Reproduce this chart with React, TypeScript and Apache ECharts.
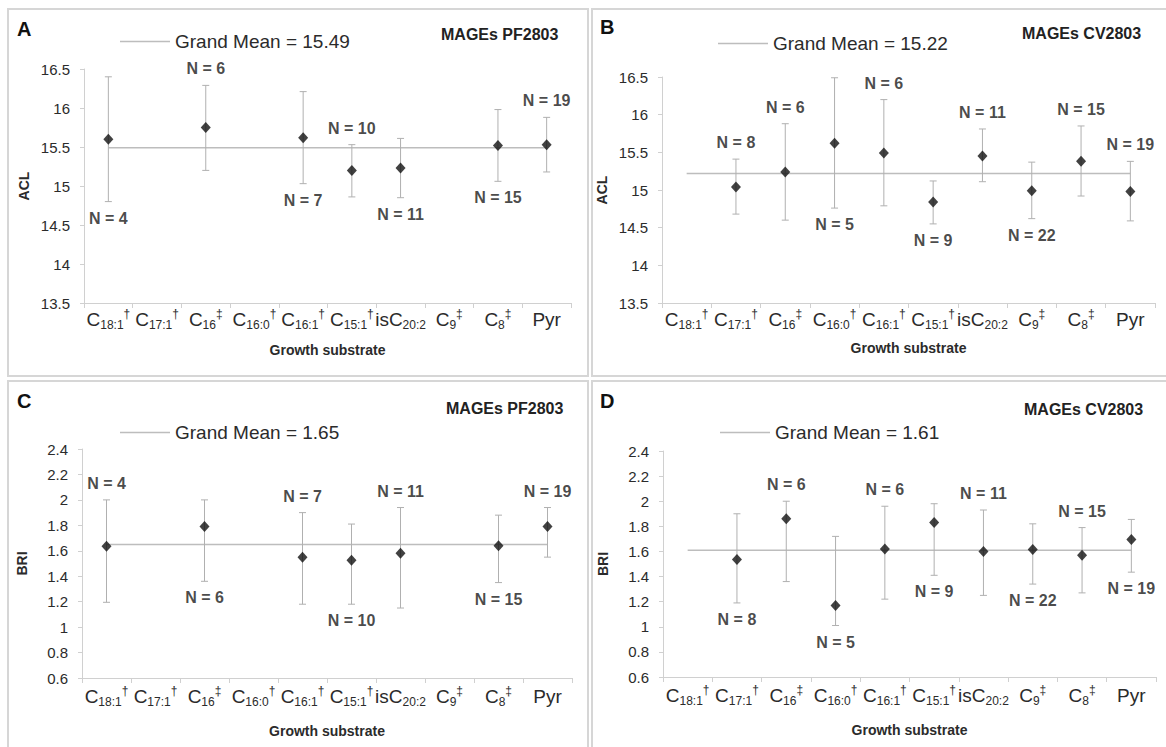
import React, { useEffect, useRef } from "react";
import * as echarts from "echarts";

// ---------- data ----------
const categories = ["C18:1†", "C17:1†", "C16‡", "C16:0†", "C16:1†", "C15:1†", "isC20:2", "C9‡", "C8‡", "Pyr"];
const catBase = ["C", "C", "C", "C", "C", "C", "isC", "C", "C", "Pyr"];
const catSub = ["18:1", "17:1", "16", "16:0", "16:1", "15:1", "20:2", "9", "8", ""];
const catSup = ["†", "†", "‡", "†", "†", "†", "", "‡", "‡", ""];

// Panel A: ACL, MAGEs PF2803
const aclPfMean = [15.6, null, 15.75, null, 15.62, 15.2, 15.23, null, 15.52, 15.53];
const aclPfLow = [14.8, null, 15.2, null, 15.03, 14.86, 14.85, null, 15.06, 15.18];
const aclPfHigh = [16.4, null, 16.29, null, 16.21, 15.53, 15.61, null, 15.98, 15.88];
const aclPfN = [4, null, 6, null, 7, 10, 11, null, 15, 19];
const aclPfNSide = ["below", null, "above", null, "below", "above", "below", null, "below", "above"];
const aclPfGrandMean = 15.49;

// Panel B: ACL, MAGEs CV2803
const aclCvMean = [null, 15.04, 15.24, 15.62, 15.49, 14.84, 15.45, 14.99, 15.38, 14.98];
const aclCvLow = [null, 14.68, 14.6, 14.76, 14.79, 14.55, 15.11, 14.62, 14.92, 14.59];
const aclCvHigh = [null, 15.41, 15.88, 16.49, 16.2, 15.12, 15.81, 15.37, 15.85, 15.38];
const aclCvN = [null, 8, 6, 5, 6, 9, 11, 22, 15, 19];
const aclCvNSide = [null, "above", "above", "below", "above", "below", "above", "below", "above", "above"];
const aclCvGrandMean = 15.22;

// Panel C: BRI, MAGEs PF2803
const briPfMean = [1.635, null, 1.79, null, 1.55, 1.525, 1.58, null, 1.64, 1.79];
const briPfLow = [1.195, null, 1.36, null, 1.18, 1.18, 1.15, null, 1.35, 1.55];
const briPfHigh = [2.0, null, 2.0, null, 1.9, 1.81, 1.94, null, 1.88, 1.94];
const briPfN = [4, null, 6, null, 7, 10, 11, null, 15, 19];
const briPfNSide = ["above", null, "below", null, "above", "below", "above", null, "below", "above"];
const briPfGrandMean = 1.65;

// Panel D: BRI, MAGEs CV2803
const briCvMean = [null, 1.536, 1.86, 1.17, 1.62, 1.83, 1.6, 1.616, 1.57, 1.695];
const briCvLow = [null, 1.19, 1.36, 1.01, 1.22, 1.41, 1.25, 1.34, 1.27, 1.435];
const briCvHigh = [null, 1.9, 2.0, 1.72, 1.96, 1.98, 1.93, 1.82, 1.79, 1.855];
const briCvN = [null, 8, 6, 5, 6, 9, 11, 22, 15, 19];
const briCvNSide = [null, "below", "above", "below", "above", "below", "above", "below", "above", "below"];
const briCvGrandMean = 1.61;

const panelLetters = ["A", "B", "C", "D"];
const panelTitles = ["MAGEs PF2803", "MAGEs CV2803", "MAGEs PF2803", "MAGEs CV2803"];
const yNames = ["ACL", "ACL", "BRI", "BRI"];
const xName = "Growth substrate";

// ---------- layout / style ----------
const FONT = "'Liberation Sans', Arial, sans-serif";
const AXIS_COLOR = "#d0d0d0";
const ERR_COLOR = "#b0b0b0";
const MEAN_LINE_COLOR = "#bdbdbd";
const TEXT_COLOR = "#2b2b2b";

const panels = [
  {
    mean: aclPfMean, low: aclPfLow, high: aclPfHigh, n: aclPfN, side: aclPfNSide, gm: aclPfGrandMean,
    grid: { left: 84, top: 69, width: 487, height: 234 },
    y: { min: 13.5, max: 16.5, interval: 0.5 },
    xLabelMargin: 5, xNameGap: 40,
    legend: { left: 115, top: 27 },
    letter: { x: 17, y: 29 }, title: { x: 441, y: 34 }, frame: { x: 8, y: 9, w: 580, h: 367 },
  },
  {
    mean: aclCvMean, low: aclCvLow, high: aclCvHigh, n: aclCvN, side: aclCvNSide, gm: aclCvGrandMean,
    grid: { left: 662, top: 77, width: 493, height: 226 },
    y: { min: 13.5, max: 16.5, interval: 0.5 },
    xLabelMargin: 5, xNameGap: 38,
    legend: { left: 713, top: 29 },
    letter: { x: 600, y: 27 }, title: { x: 1022, y: 33 }, frame: { x: 592, y: 9, w: 700, h: 367 },
  },
  {
    mean: briPfMean, low: briPfLow, high: briPfHigh, n: briPfN, side: briPfNSide, gm: briPfGrandMean,
    grid: { left: 82, top: 449, width: 490, height: 229 },
    y: { min: 0.6, max: 2.4, interval: 0.2 },
    xLabelMargin: 7, xNameGap: 46,
    legend: { left: 115, top: 418 },
    letter: { x: 17, y: 401 }, title: { x: 446, y: 408 }, frame: { x: 8, y: 381, w: 580, h: 500 },
  },
  {
    mean: briCvMean, low: briCvLow, high: briCvHigh, n: briCvN, side: briCvNSide, gm: briCvGrandMean,
    grid: { left: 663, top: 451, width: 493, height: 226 },
    y: { min: 0.6, max: 2.4, interval: 0.2 },
    xLabelMargin: 7, xNameGap: 46,
    legend: { left: 715, top: 418 },
    letter: { x: 600, y: 401 }, title: { x: 1024, y: 409 }, frame: { x: 592, y: 381, w: 700, h: 500 },
  },
];

function catLabel(_v: string, idx: number) {
  let s = `{b|${catBase[idx]}}`;
  if (catSub[idx]) s += `{sub|${catSub[idx]}}`;
  if (catSup[idx]) s += `{sup|${catSup[idx]}}`;
  return s;
}

function buildOption() {
  const grids: any[] = [];
  const xAxes: any[] = [];
  const yAxes: any[] = [];
  const series: any[] = [];
  const legends: any[] = [];
  const graphics: any[] = [];

  panels.forEach((p, i) => {
    grids.push({ ...p.grid, containLabel: false });
    xAxes.push({
      type: "category",
      gridIndex: i,
      data: categories,
      boundaryGap: true,
      axisLine: { show: true, lineStyle: { color: AXIS_COLOR, width: 1 } },
      axisTick: { show: true, length: 5, lineStyle: { color: AXIS_COLOR } },
      splitLine: { show: false },
      axisLabel: {
        interval: 0,
        margin: p.xLabelMargin,
        formatter: catLabel,
        rich: {
          b: { fontSize: 19, fontFamily: FONT, color: TEXT_COLOR, lineHeight: 23 },
          sub: { fontSize: 12, fontFamily: FONT, color: TEXT_COLOR, verticalAlign: "bottom", lineHeight: 12 },
          sup: { fontSize: 12, fontFamily: FONT, color: TEXT_COLOR, verticalAlign: "top", lineHeight: 12 },
        },
      },
      name: xName,
      nameLocation: "middle",
      nameGap: p.xNameGap,
      nameTextStyle: { fontFamily: FONT, fontWeight: "bold", fontSize: 14, color: TEXT_COLOR },
    });
    yAxes.push({
      type: "value",
      gridIndex: i,
      min: p.y.min,
      max: p.y.max,
      interval: p.y.interval,
      axisLine: { show: true, lineStyle: { color: AXIS_COLOR, width: 1 } },
      axisTick: { show: true, length: 4, lineStyle: { color: AXIS_COLOR } },
      splitLine: { show: false },
      axisLabel: { fontSize: 15, fontFamily: FONT, color: TEXT_COLOR, margin: 14 },
      name: yNames[i],
      nameLocation: "middle",
      nameRotate: 90,
      nameGap: 53,
      nameTextStyle: { fontFamily: FONT, fontWeight: "bold", fontSize: 14, color: TEXT_COLOR },
    });

    const errData: any[] = [];
    const meanData: any[] = [];
    const labelData: any[] = [];
    categories.forEach((c, k) => {
      if (p.mean[k] == null) return;
      errData.push([k, p.low[k], p.high[k]]);
      meanData.push([c, p.mean[k]]);
      const above = p.side[k] === "above";
      labelData.push({
        value: [c, above ? p.high[k] : p.low[k]],
        label: { position: above ? "top" : "bottom" },
        nValue: p.n[k],
      });
    });

    const gmName = `Grand Mean = ${p.gm.toFixed(2)}`;
    series.push({
      name: gmName,
      type: "line",
      xAxisIndex: i,
      yAxisIndex: i,
      symbol: "none",
      data: [
        [categories[0], p.gm],
        [categories[categories.length - 1], p.gm],
      ],
      lineStyle: { color: MEAN_LINE_COLOR, width: 1.5 },
      itemStyle: { color: MEAN_LINE_COLOR },
      z: 1,
      silent: true,
    });
    series.push({
      type: "custom",
      xAxisIndex: i,
      yAxisIndex: i,
      encode: { x: 0, y: [1, 2] },
      data: errData,
      z: 2,
      renderItem: (_params: any, api: any) => {
        const lo = api.coord([api.value(0), api.value(1)]);
        const hi = api.coord([api.value(0), api.value(2)]);
        const cap = 3.5;
        const st = { stroke: ERR_COLOR, lineWidth: 1 };
        return {
          type: "group",
          children: [
            { type: "line", shape: { x1: lo[0], y1: lo[1], x2: hi[0], y2: hi[1] }, style: st },
            { type: "line", shape: { x1: lo[0] - cap, y1: lo[1], x2: lo[0] + cap, y2: lo[1] }, style: st },
            { type: "line", shape: { x1: hi[0] - cap, y1: hi[1], x2: hi[0] + cap, y2: hi[1] }, style: st },
          ],
        };
      },
    });
    series.push({
      type: "scatter",
      xAxisIndex: i,
      yAxisIndex: i,
      symbol: "diamond",
      symbolSize: [10, 11],
      itemStyle: { color: "#111111" },
      data: meanData,
      z: 3,
    });
    series.push({
      type: "scatter",
      xAxisIndex: i,
      yAxisIndex: i,
      symbolSize: 1,
      itemStyle: { color: "rgba(0,0,0,0)" },
      data: labelData,
      z: 4,
      label: {
        show: true,
        distance: 8,
        fontFamily: FONT,
        fontWeight: "bold",
        fontSize: 16,
        color: "#1a1a1a",
        formatter: (prm: any) => `N = ${prm.data.nValue}`,
      },
    });

    legends.push({
      data: [gmName],
      left: p.legend.left,
      top: p.legend.top,
      icon: "rect",
      itemWidth: 50,
      itemHeight: 1.5,
      itemGap: 5,
      selectedMode: false,
      textStyle: { fontFamily: FONT, fontSize: 19, color: TEXT_COLOR },
    });

    graphics.push({
      type: "rect",
      shape: { x: p.frame.x, y: p.frame.y, width: p.frame.w, height: p.frame.h },
      style: { fill: "none", stroke: "#d6d6d6", lineWidth: 2 },
      silent: true,
      z: -10,
    });
    graphics.push({
      type: "text",
      x: p.letter.x,
      y: p.letter.y,
      style: {
        text: panelLetters[i],
        font: `bold 20px ${FONT}`,
        fill: "#111",
        verticalAlign: "middle",
      },
    });
    graphics.push({
      type: "text",
      x: p.title.x,
      y: p.title.y,
      style: {
        text: panelTitles[i],
        font: `bold 16px ${FONT}`,
        fill: "#222",
        verticalAlign: "middle",
      },
    });
  });

  return {
    animation: false,
    backgroundColor: "#ffffff",
    grid: grids,
    xAxis: xAxes,
    yAxis: yAxes,
    legend: legends,
    series,
    graphic: graphics,
  };
}

export default function App() {
  const ref = useRef<HTMLDivElement>(null);
  useEffect(() => {
    if (!ref.current) return;
    const chart = echarts.init(ref.current, undefined, { renderer: "svg" });
    chart.setOption(buildOption() as any);
    return () => chart.dispose();
  }, []);
  return (
    <div
      ref={ref}
      style={{ position: "fixed", left: 0, top: 0, width: 1166, height: 747, background: "#fff" }}
    />
  );
}
